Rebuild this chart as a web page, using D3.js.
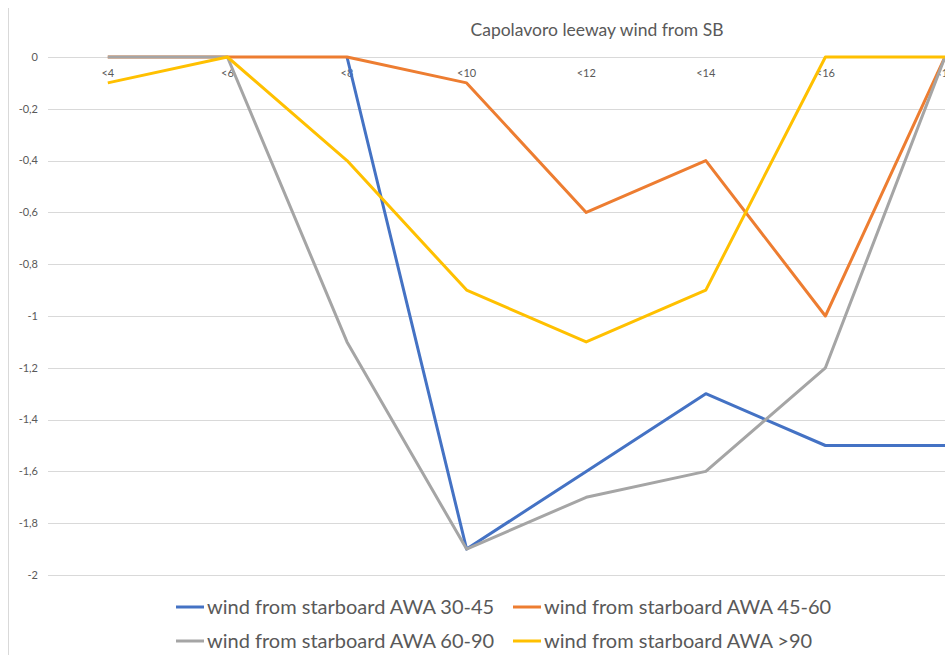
<!DOCTYPE html>
<html>
<head>
<meta charset="utf-8">
<script src="https://cdn.jsdelivr.net/npm/d3@7"></script>
<style>
  body { margin: 0; background: #fff; }
  svg { display: block; font-family: Lato, "Open Sans", sans-serif; }
</style>
</head>
<body>
<svg id="chart" width="945" height="655"></svg>
<script>
const categories = ["<4", "<6", "<8", "<10", "<12", "<14", "<16", "<18"];
const yTicks = [0, -0.2, -0.4, -0.6, -0.8, -1, -1.2, -1.4, -1.6, -1.8, -2];

const seriesNames = [
  "wind from starboard AWA 30-45",
  "wind from starboard AWA 45-60",
  "wind from starboard AWA 60-90",
  "wind from starboard AWA >90"
];
const seriesColors = ["#4472C4", "#ED7D31", "#A5A5A5", "#FFC000"];

// null = no value for that wind bin
const awa30to45 = [null, null, 0, -1.9, -1.6, -1.3, -1.5, -1.5];
const awa45to60 = [0, 0, 0, -0.1, -0.6, -0.4, -1.0, 0];
const awa60to90 = [0, 0, -1.1, -1.9, -1.7, -1.6, -1.2, 0];
const awaOver90 = [-0.1, 0, -0.4, -0.9, -1.1, -0.9, 0, 0];

const seriesValues = [awa30to45, awa45to60, awa60to90, awaOver90];

const svg = d3.select("#chart");
const textColor = "#595959";
const gridColor = "#d9d9d9";

// chart frame (left edge visible)
svg.append("line")
    .attr("x1", 8.5).attr("x2", 8.5)
    .attr("y1", 8).attr("y2", 655)
    .attr("stroke", gridColor);

const x = d3.scaleBand()
    .domain(categories)
    .range([48, 48 + categories.length * 119.6]);

const y = d3.scaleLinear()
    .domain([-2, 0])
    .range([575, 57]);

const fmt = d => String(d).replace(".", ",");

// gridlines + y labels
const yAxis = svg.append("g");
yAxis.selectAll("line")
    .data(yTicks)
    .enter()
    .append("line")
    .attr("x1", 48).attr("x2", 945)
    .attr("y1", d => Math.round(y(d)) + 0.5)
    .attr("y2", d => Math.round(y(d)) + 0.5)
    .attr("stroke", gridColor)
    .attr("stroke-width", 1);

yAxis.selectAll("text")
    .data(yTicks)
    .enter()
    .append("text")
    .attr("x", 38)
    .attr("y", d => y(d))
    .attr("dy", "0.35em")
    .attr("text-anchor", "end")
    .attr("font-size", "11px")
    .attr("fill", textColor)
    .text(fmt);

// category labels sit just under the zero line
svg.append("g").selectAll("text")
    .data(categories)
    .enter()
    .append("text")
    .attr("x", d => x(d) + x.bandwidth() / 2)
    .attr("y", y(0) + 20)
    .attr("text-anchor", "middle")
    .attr("font-size", "11px")
    .attr("fill", textColor)
    .text(d => d);

// title
svg.append("text")
    .attr("x", 597)
    .attr("y", 36)
    .attr("text-anchor", "middle")
    .attr("font-size", "17.5px")
    .attr("fill", textColor)
    .text("Capolavoro leeway wind from SB");

// lines
const line = d3.line()
    .defined(d => d != null)
    .x((d, i) => x(categories[i]) + x.bandwidth() / 2)
    .y(d => y(d));

svg.append("g").selectAll("path")
    .data(seriesValues)
    .enter()
    .append("path")
    .attr("d", d => line(d))
    .attr("fill", "none")
    .attr("stroke", (d, i) => seriesColors[i])
    .attr("stroke-width", 3)
    .attr("stroke-linejoin", "round");

// legend, 2 x 2
const legendPos = [
  { lx: 176, ty: 607 }, { lx: 513, ty: 607 },
  { lx: 176, ty: 641 }, { lx: 513, ty: 641 }
];

const legend = svg.append("g").selectAll("g")
    .data(seriesNames)
    .enter()
    .append("g")
    .attr("transform", (d, i) => `translate(${legendPos[i].lx},${legendPos[i].ty})`);

legend.append("line")
    .attr("x1", 0).attr("x2", 28)
    .attr("y1", 0).attr("y2", 0)
    .attr("stroke", (d, i) => seriesColors[i])
    .attr("stroke-width", 3);

legend.append("text")
    .attr("x", 31)
    .attr("y", 0)
    .attr("dy", "0.35em")
    .attr("font-size", "20px")
    .attr("fill", textColor)
    .text(d => d);
</script>
</body>
</html>
